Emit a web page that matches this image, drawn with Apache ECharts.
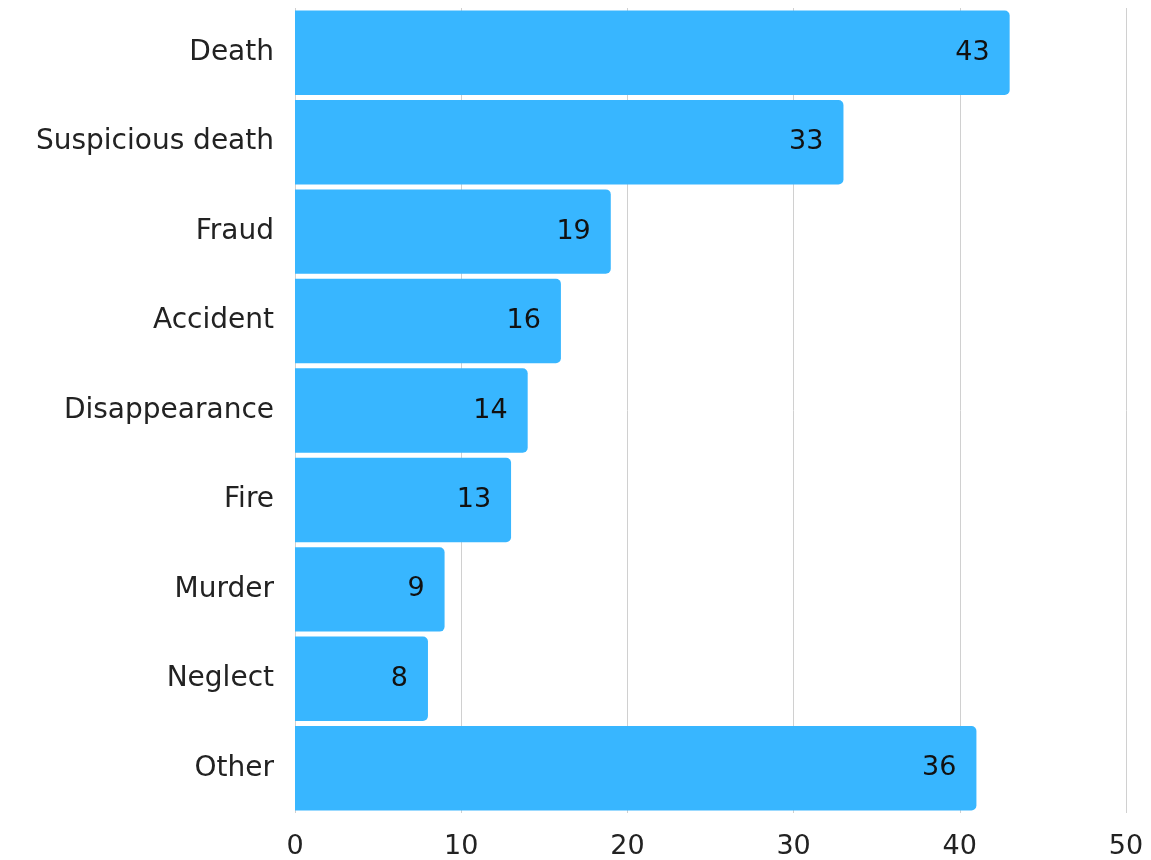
<!DOCTYPE html>
<html>
<head>
<meta charset="utf-8">
<script src="https://cdn.jsdelivr.net/npm/echarts@6/dist/echarts.min.js"></script>
<style>html,body{margin:0;padding:0;background:#fff}#c{width:1151px;height:860px}</style>
</head>
<body>
<div id="c"></div>
<script>
var categories = ["Death", "Suspicious death", "Fraud", "Accident", "Disappearance", "Fire", "Murder", "Neglect", "Other"];
var values = [43, 33, 19, 16, 14, 13, 9, 8, 41];
var valueLabels = ["43", "33", "19", "16", "14", "13", "9", "8", "36"];
var xTicks = [0, 10, 20, 30, 40, 50];

var FONT = "DejaVu Sans";
var chart = echarts.init(document.getElementById('c'));
chart.setOption({
  animation: false,
  textStyle: { fontFamily: FONT },
  grid: { left: 295, right: 25, top: 8, bottom: 45, containLabel: false },
  xAxis: {
    type: 'value', min: 0, max: 50, interval: 10,
    axisLine: { show: false }, axisTick: { show: false },
    splitLine: { show: true, lineStyle: { color: '#d0d0d0', width: 1 } },
    axisLabel: { color: '#222', fontSize: 27, fontFamily: FONT, margin: 20,
      formatter: function (v) { return xTicks.indexOf(v) >= 0 ? String(v) : ''; } }
  },
  yAxis: {
    type: 'category', data: categories, inverse: true,
    axisLine: { show: false }, axisTick: { show: false },
    axisLabel: { color: '#222', fontSize: 28, fontFamily: FONT, margin: 21 }
  },
  series: [{
    type: 'bar',
    data: values,
    barCategoryGap: '5.6%',
    itemStyle: { color: '#38B6FF', borderRadius: [0, 5, 5, 0] },
    label: {
      show: true, position: 'insideRight', distance: 20,
      color: '#111', fontSize: 27, fontFamily: FONT,
      formatter: function (p) { return valueLabels[p.dataIndex]; }
    }
  }]
});
</script>
</body>
</html>
